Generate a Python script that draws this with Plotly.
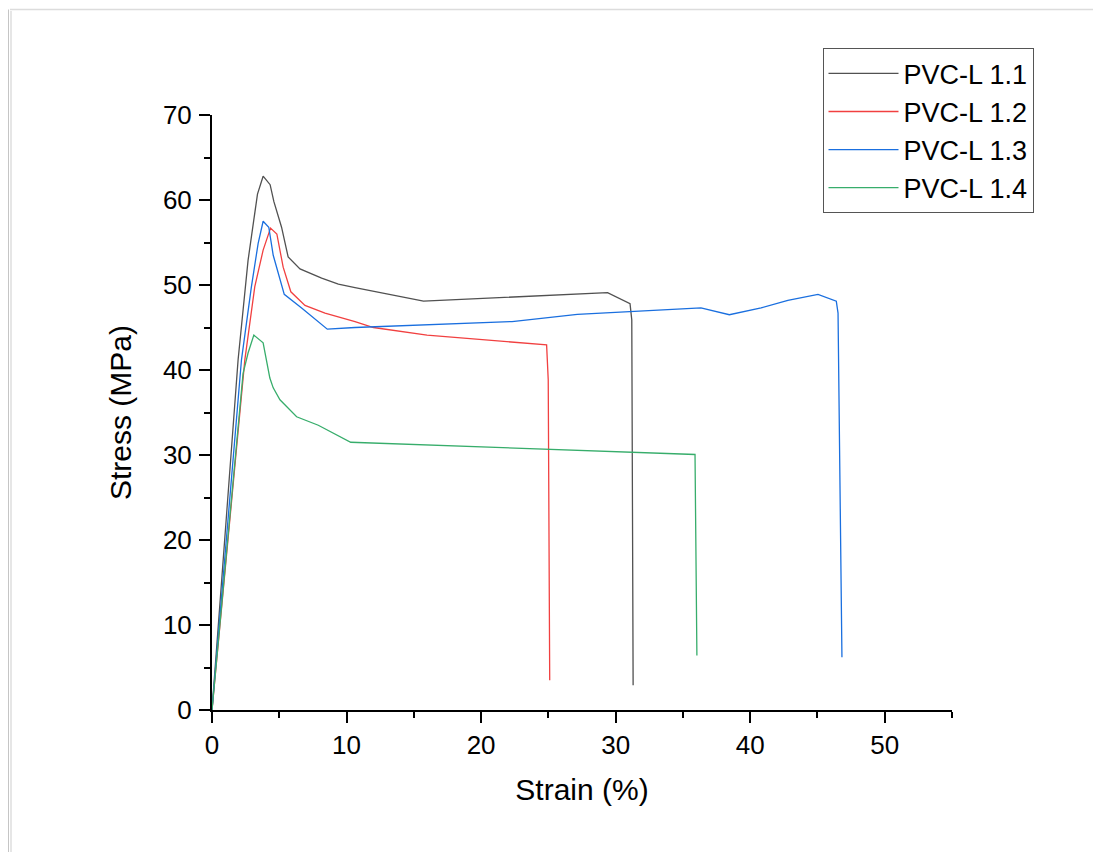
import plotly.graph_objects as go

# ---- data ----
names = ["PVC-L 1.1", "PVC-L 1.2", "PVC-L 1.3", "PVC-L 1.4"]

strain_11 = [0, 1.94, 2.68, 3.38, 3.8, 4.32, 4.6, 5.17, 5.66, 6.54, 8.15, 9.39, 10.63, 15.72, 29.4, 31.07, 31.2, 31.3]
stress_11 = [0, 41.2, 52.9, 60.7, 62.8, 61.8, 59.8, 56.8, 53.3, 51.9, 50.8, 50.1, 49.7, 48.1, 49.1, 47.8, 45.9, 2.9]

strain_12 = [0, 2.44, 3.18, 3.8, 4.35, 4.82, 5.29, 5.86, 6.91, 8.4, 10.63, 12.0, 15.98, 24.87, 24.99, 25.1]
stress_12 = [0, 41.2, 49.8, 54.1, 56.7, 56.0, 52.1, 49.2, 47.6, 46.7, 45.7, 45.0, 44.1, 42.95, 38.85, 3.5]

strain_13 = [0, 2.19, 2.93, 3.43, 3.8, 4.22, 4.55, 5.37, 6.66, 8.57, 10.63, 22.3, 27.15, 36.34, 38.45, 40.81, 42.8, 45.04, 46.4, 46.53, 46.82]
stress_13 = [0, 41.2, 49.8, 54.9, 57.5, 56.8, 53.5, 48.9, 47.3, 44.8, 45.0, 45.7, 46.55, 47.3, 46.5, 47.3, 48.2, 48.9, 48.1, 46.7, 6.2]

strain_14 = [0, 2.31, 2.68, 3.11, 3.8, 4.3, 4.55, 5.05, 6.29, 7.9, 10.31, 35.9, 36.04]
stress_14 = [0, 39.6, 42.0, 44.1, 43.2, 39.05, 37.9, 36.5, 34.5, 33.5, 31.5, 30.06, 6.4]

colors = ["#515151", "#F14040", "#1A6FDF", "#37AD6B"]

x_ticks = [0, 10, 20, 30, 40, 50]
y_ticks = [0, 10, 20, 30, 40, 50, 60, 70]

FONT = "Liberation Sans, Arial, sans-serif"

fig = go.Figure()
series = [(strain_11, stress_11), (strain_12, stress_12), (strain_13, stress_13), (strain_14, stress_14)]
for (xs, ys), nm, c in zip(series, names, colors):
    fig.add_trace(go.Scatter(x=xs, y=ys, mode="lines", name=nm,
                             line=dict(color=c, width=1.3)))

axis_common = dict(
    showline=True, linewidth=2, linecolor="black", mirror=False,
    showgrid=False, zeroline=False,
    ticks="outside", ticklen=11, tickwidth=2, tickcolor="black",
    tickfont=dict(family=FONT, size=26, color="black"),
    minor=dict(ticks="outside", ticklen=6, tickwidth=2, tickcolor="black", dtick=5, tick0=0),
    automargin=False,
)

fig.update_xaxes(range=[0, 55], tickvals=x_ticks,
                 title=dict(text="Strain (%)", font=dict(family=FONT, size=30, color="black"), standoff=20),
                 **axis_common)
fig.update_yaxes(range=[0, 70], tickvals=y_ticks,
                 title=dict(text="Stress (MPa)", font=dict(family=FONT, size=30, color="black"), standoff=22),
                 ticklabelstandoff=2,
                 **axis_common)

fig.update_layout(
    width=1101, height=852,
    margin=dict(l=204, r=157, t=107, b=150),
    paper_bgcolor="white", plot_bgcolor="white",
    showlegend=True,
    legend=dict(x=0.825, y=1.112, xanchor="left", yanchor="top",
                bordercolor="#555555", borderwidth=1, bgcolor="white",
                font=dict(family=FONT, size=27, color="black"),
                itemwidth=70, tracegroupgap=0,
                entrywidth=150, entrywidthmode="pixels"),
    shapes=[
        dict(type="line", xref="paper", yref="paper", x0=-0.273, x1=1.21, y0=1.1773, y1=1.1773,
             line=dict(color="#dcdcdc", width=1.5)),
        dict(type="line", xref="paper", yref="paper", x0=-0.2757, x1=-0.2757, y0=1.1773, y1=-0.25,
             line=dict(color="#c4c4c4", width=2)),
        dict(type="line", xref="paper", yref="paper", x0=-0.2716, x1=-0.2716, y0=1.175, y1=-0.25,
             line=dict(color="#e6e6e6", width=2)),
    ],
)

fig.write_html("out.html")
